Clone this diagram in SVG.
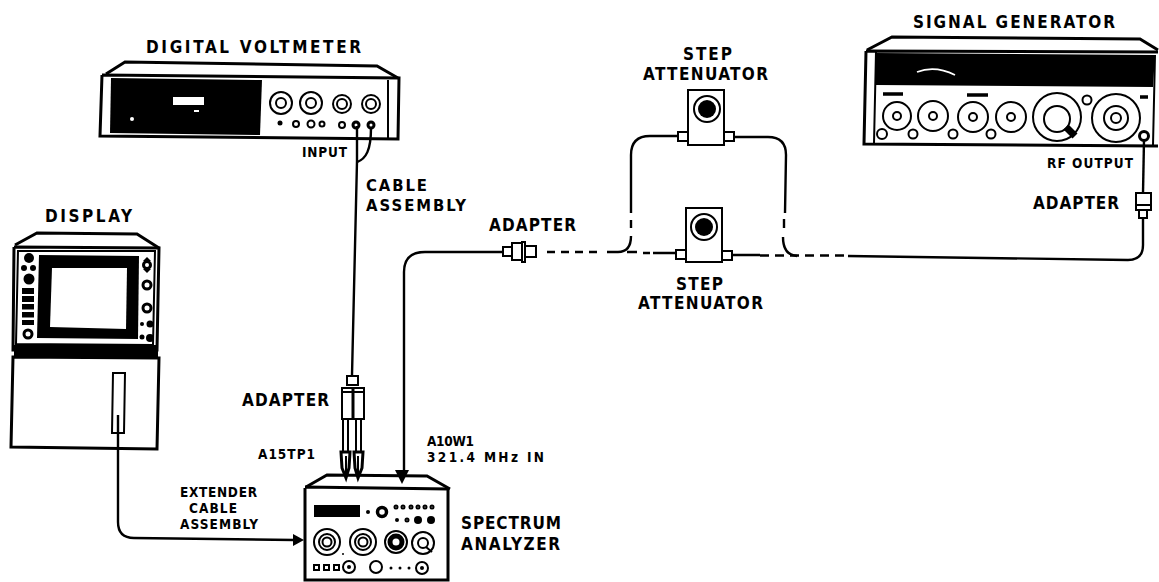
<svg xmlns="http://www.w3.org/2000/svg" width="1159" height="582" viewBox="0 0 1159 582">
<style>
.l{font-family:"DejaVu Sans Condensed","Liberation Sans",Arial,sans-serif;font-weight:700;fill:#000;font-size:17px}
.m{font-size:16.500px}
.s{font-size:13.500px}
.o{fill:none;stroke:#000;stroke-width:2}
.h{fill:none;stroke:#000;stroke-width:3}
.k{fill:#000;stroke:none}
.w{fill:#fff;stroke:#000;stroke-width:2}
.c{fill:none;stroke:#000;stroke-width:2.400}
.d{stroke-dasharray:8 6}
.e{stroke-dasharray:9 6}
</style>
<rect width="1159" height="582" fill="#fff"/>
<g id="connectors">
<path class="c" d="M357 126V161L352 375"/>
<path class="c" d="M371 128C371 150 366 159 357 162"/>
<path class="c" d="M118 415V522Q118 538 134 538L294 540"/>
<path d="M304 540L293 534V546Z" class="k"/>
<path class="c" d="M503 252H425Q404 252 404 272V472"/>
<path d="M402 484L395 470H409Z" class="k"/>
<path class="c" d="M678 136H650Q631 136 631 155V213"/>
<path class="c" d="M631 220V228"/>
<path class="c" d="M631 236Q631 252 618 252H607"/>
<path class="c" d="M734 137H768Q786 137 786 155L785 213"/>
<path class="c" d="M784 219V228"/>
<path class="c" d="M783 237Q783 255 797 256"/>
<path class="c d" d="M547 252H601"/>
<path class="c" d="M627 252H637M643 253H650M653 253H676M732 255H760"/>
<path class="c e" d="M760 255.500H844"/>
<path class="c" d="M848 256L1128 260Q1143 260 1143 245V218"/>
<path class="c" d="M1144 140L1143 193"/>
</g>
<g id="digital-voltmeter">
<path class="h" d="M106 74L125 62L377 66L398 78"/>
<path class="h" d="M102 75L100 136L398 139L399 78L102 75"/>
<path class="o" d="M388 80V138"/>
<path class="k" d="M111 78L262 80L260 135L110 133Z"/>
<rect x="173" y="97" width="31" height="8" fill="#fff"/>
<rect x="194" y="110" width="5" height="2" fill="#fff"/>
<circle cx="132" cy="119" r="2" fill="#fff"/>
<circle class="o" cx="281" cy="103" r="11"/><circle class="o" cx="281" cy="103" r="5"/>
<circle class="o" cx="311" cy="103" r="11"/><circle class="o" cx="311" cy="103" r="5"/>
<circle class="o" cx="342" cy="104" r="9"/><circle class="o" cx="342" cy="104" r="5"/>
<circle class="o" cx="371" cy="104" r="9"/><circle class="o" cx="371" cy="104" r="5"/>
<circle class="k" cx="280" cy="123" r="2.500"/>
<circle class="o" cx="296" cy="124" r="3"/><circle class="o" cx="311" cy="124" r="3.500"/><circle class="o" cx="322" cy="124" r="2.500"/><circle class="o" cx="342" cy="125" r="3"/>
<circle class="h" cx="356" cy="125" r="3"/><circle class="h" cx="371" cy="125" r="3"/>
</g>
<g id="step-attenuator-top">
<rect class="o" x="688" y="90" width="36" height="55" fill="#fff"/>
<circle class="o" cx="707" cy="109" r="13"/><circle class="k" cx="707" cy="109" r="9"/>
<rect class="o" x="678" y="132" width="10" height="9"/><rect class="o" x="724" y="132" width="10" height="9"/>
</g>
<g id="step-attenuator-bottom">
<rect class="o" x="686" y="208" width="36" height="54"/>
<circle class="o" cx="704" cy="227" r="13"/><circle class="k" cx="704" cy="227" r="9"/>
<rect class="o" x="676" y="250" width="10" height="9"/><rect class="o" x="722" y="251" width="10" height="9"/>
</g>
<g id="adapter-mid">
<rect class="o" x="503" y="247" width="9" height="9"/>
<rect class="o" x="512" y="243" width="10" height="17"/>
<rect class="o" x="522" y="242" width="3" height="20"/>
<rect class="o" x="525" y="246" width="11" height="11"/>
</g>
<g id="signal-generator">
<path class="h" d="M867 50L892 37L1140 39L1158 50"/>
<path class="h" d="M866 51L1158 52M866 51L864 144L1158 146"/>
<path class="o" d="M876 52L874 143M1155 55L1153 145"/>
<path class="k" d="M876 53L1155 55L1153 87L876 85Z"/>
<path d="M917 72Q935 65 955 75" fill="none" stroke="#fff" stroke-width="1.800"/>
<path d="M883 94H903M967 95H988M1140 97H1148" fill="none" stroke="#000" stroke-width="3.500"/>
<circle class="o" cx="897" cy="116" r="14"/><circle class="o" cx="897" cy="116" r="4"/>
<circle class="o" cx="933" cy="116" r="15"/><circle class="o" cx="933" cy="116" r="4"/>
<circle class="o" cx="973" cy="117" r="15"/><circle class="o" cx="973" cy="117" r="4"/>
<circle class="o" cx="1011" cy="117" r="15"/><circle class="o" cx="1011" cy="117" r="4"/>
<circle class="o" cx="1057" cy="117" r="24"/><circle class="o" cx="1057" cy="119" r="13"/>
<path d="M1066 127L1075 136" stroke="#000" stroke-width="7" fill="none"/>
<circle class="o" cx="1116" cy="118" r="24"/><circle class="o" cx="1116" cy="118" r="12"/><circle class="o" cx="1116" cy="118" r="5"/>
<circle class="w" cx="882" cy="134" r="5"/><circle class="w" cx="913" cy="134" r="4.500"/><circle class="w" cx="953" cy="134" r="4.500"/><circle class="w" cx="991" cy="134" r="4.500"/><circle class="o" cx="1087" cy="100" r="4.500"/>
<circle class="h" cx="1144" cy="136" r="4.500" fill="#fff"/>
</g>
<g id="adapter-right">
<rect class="o" x="1136" y="193" width="15" height="17"/>
<path class="o" d="M1136 205H1151"/>
<rect class="o" x="1139" y="210" width="8" height="8"/>
</g>
<g id="display">
<path class="h" d="M15 245L37 233L137 234L159 248"/>
<path class="h" d="M14 247L13 350L157 350L159 248L14 247"/>
<rect class="k" x="14" y="345" width="144" height="12"/>
<path class="o" d="M18 251L155 251L153 345L16 344Z"/>
<path class="k" d="M39 255L139 256L138 339L37 338Z"/>
<path d="M52 268L127 268L126 329L50 327Z" fill="#fff"/>
<path class="h" d="M13 357L159 358L157 449L11 447Z"/>
<path class="o" d="M113 373H125L124 433H112Z"/>
<circle class="k" cx="29" cy="258" r="5"/><circle class="k" cx="24" cy="268" r="3"/><circle class="k" cx="33" cy="268" r="3"/><circle class="k" cx="29" cy="279" r="5.500"/>
<path class="k" d="M22 288H34V294H22ZM22 296H34V302H22ZM22 304H34V309.500H22ZM22 312H34V317.500H22ZM22 320H34V325H22Z"/>
<circle class="h" cx="28" cy="334" r="4"/>
<circle class="h" cx="147" cy="265" r="3.500"/><path class="k" d="M147 257L151 261H143ZM147 273L151 269H143Z"/>
<circle class="h" cx="147" cy="285" r="4"/><circle class="h" cx="147" cy="308" r="4"/>
<circle class="k" cx="142" cy="324" r="2"/><circle class="k" cx="150" cy="324" r="3.500"/><circle class="k" cx="142" cy="337" r="2.500"/><circle class="k" cx="150" cy="338" r="4"/>
</g>
<g id="adapter-sa">
<rect class="o" x="347" y="376" width="11" height="9"/>
<rect class="o" x="342" y="388" width="22" height="31"/>
<path class="h" d="M353 388V419"/>
<path class="o" d="M342 392H364M343 419V451M348 419V451M356 419V451M361 419V451"/>
<path class="h" d="M341 452H350L349 468L346 478L342 468ZM354 452H363L362 468L358 478L355 468Z" fill="#fff"/>
<path class="o" d="M346 456V478M358 456V478"/>
</g>
<g id="spectrum-analyzer">
<path class="h" d="M306 487L327 475L427 476L450 489"/>
<path class="h" d="M305 488L305 580H448V489L305 487"/>
<rect class="k" x="314" y="505" width="46" height="12"/>
<circle class="k" cx="368" cy="512" r="2"/><circle cx="382" cy="512" r="4.500" fill="none" stroke="#000" stroke-width="3.500"/>
<circle class="o" cx="396" cy="507" r="1.500"/><circle class="o" cx="403" cy="507" r="1.500"/><circle class="o" cx="411" cy="507" r="1.500"/><circle class="o" cx="418" cy="507" r="1.500"/><circle class="o" cx="425" cy="507" r="1.500"/><circle class="o" cx="432" cy="507" r="1.500"/>
<circle class="k" cx="397" cy="520" r="2"/><circle class="o" cx="407" cy="520" r="1.500"/><circle class="k" cx="418" cy="520" r="4"/><circle class="k" cx="431" cy="520" r="4"/>
<circle class="o" cx="327" cy="542" r="13"/><circle class="o" cx="327" cy="542" r="8"/><circle class="o" cx="327" cy="542" r="4.500"/>
<circle class="o" cx="363" cy="542" r="13"/><circle class="o" cx="363" cy="542" r="8"/><circle class="o" cx="363" cy="542" r="4.500"/>
<circle class="o" cx="396" cy="542" r="11"/><circle cx="396" cy="542" r="6" fill="none" stroke="#000" stroke-width="5"/>
<circle class="o" cx="423" cy="543" r="11"/><circle class="o" cx="423" cy="543" r="5"/><path class="o" d="M426 547L432 552"/>
<circle class="k" cx="343" cy="554" r="1"/>
<rect class="o" x="314" y="565" width="5" height="5"/><rect class="o" x="324" y="565" width="5" height="5"/><rect class="o" x="334" y="565" width="5" height="5"/>
<circle class="o" cx="349" cy="567" r="6"/><circle class="k" cx="349" cy="567" r="2"/>
<circle class="o" cx="376" cy="567" r="6"/><circle class="k" cx="391" cy="568" r="1.500"/><circle class="k" cx="400" cy="568" r="1.500"/><circle class="k" cx="409" cy="568" r="1.500"/>
<circle class="o" cx="422" cy="568" r="6"/><circle class="k" cx="422" cy="568" r="2"/>
</g>
<g id="labels">
<text class="l" x="146" y="53" textLength="215">DIGITAL VOLTMETER</text>
<text class="l s" x="302" y="157" textLength="45">INPUT</text>
<text class="l m" x="366" y="191" textLength="61">CABLE</text>
<text class="l m" x="366" y="211" textLength="100">ASSEMBLY</text>
<text class="l" x="913" y="28" textLength="202">SIGNAL GENERATOR</text>
<text class="l s" x="1047" y="168" textLength="86">RF OUTPUT</text>
<text class="l" x="1033" y="209" textLength="86">ADAPTER</text>
<text class="l" x="45" y="222" textLength="87">DISPLAY</text>
<text class="l" x="242" y="406" textLength="87">ADAPTER</text>
<text class="l s" x="258" y="459" textLength="57">A15TP1</text>
<text class="l s" x="427" y="446" textLength="47">A10W1</text>
<text class="l s" x="427" y="462" textLength="117">321.4 MHz IN</text>
<text class="l" x="461" y="529" textLength="100">SPECTRUM</text>
<text class="l" x="461" y="550" textLength="99">ANALYZER</text>
<text class="l s" x="180" y="497" textLength="77">EXTENDER</text>
<text class="l s" x="189" y="513" textLength="48">CABLE</text>
<text class="l s" x="180" y="529" textLength="78">ASSEMBLY</text>
<text class="l" x="683" y="60" textLength="49">STEP</text>
<text class="l" x="643" y="80" textLength="125">ATTENUATOR</text>
<text class="l" x="489" y="231" textLength="87">ADAPTER</text>
<text class="l" x="676" y="290" textLength="47">STEP</text>
<text class="l" x="638" y="309" textLength="125">ATTENUATOR</text>
</g>
</svg>
